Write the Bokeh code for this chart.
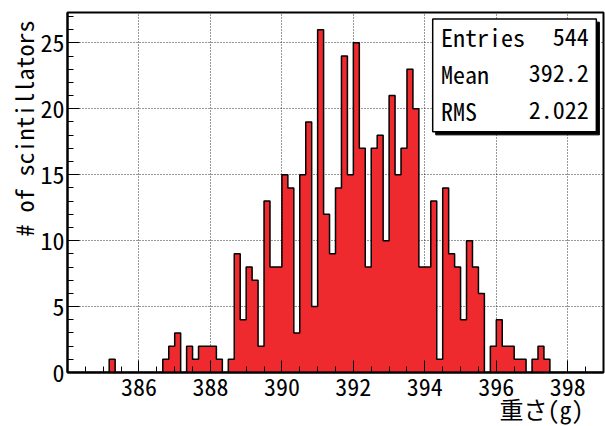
import numpy as np
from bokeh.plotting import figure
from bokeh.models import ColumnDataSource, FixedTicker, Title
from bokeh.core.properties import value
from bokeh.embed import file_html
from bokeh.resources import INLINE

# ---- data ----
bin_lo = 384.0
bin_hi = 399.0
n_bins = 90
counts = [0, 0, 0, 0, 0, 0, 0, 1, 0, 0,
          0, 0, 0, 0, 0, 0, 1, 2, 3, 0,
          2, 1, 2, 2, 2, 1, 0, 1, 9, 4,
          8, 7, 2, 13, 8, 8, 15, 14, 3, 15,
          19, 5, 26, 12, 9, 14, 24, 15, 25, 17,
          8, 17, 18, 10, 21, 15, 17, 23, 20, 8,
          8, 13, 1, 14, 9, 8, 4, 10, 8, 6,
          0, 2, 4, 2, 2, 1, 1, 0, 1, 2,
          1, 0, 0, 0, 0, 0, 0, 0, 0, 0]
x_ticks = [386, 388, 390, 392, 394, 396, 398]
y_ticks = [0, 5, 10, 15, 20, 25]
stat_names = ["Entries", "Mean", "RMS"]
stat_values = ["544", "392.2", "2.022"]
x_title = "重さ(g)"
y_title = "# of scintillators"

FONT = "'Noto Sans Mono CJK JP', 'Noto Sans CJK JP', sans-serif"
RED = "#ee2a2f"

edges = np.linspace(bin_lo, bin_hi, n_bins + 1)
ymax = max(counts) * 1.05

p = figure(width=605, height=426, x_range=(bin_lo, bin_hi), y_range=(0, ymax),
           output_backend="svg", toolbar_location=None,
           min_border_left=67, min_border_right=2, min_border_top=12, min_border_bottom=54)
p.background_fill_color = "white"
p.border_fill_color = "white"
p.outline_line_color = "black"
p.outline_line_width = 2

x_minor = [v for v in np.arange(bin_lo + 0.5, bin_hi, 0.5) if v not in x_ticks]
y_minor = [v for v in range(1, int(ymax) + 1) if v not in y_ticks]
p.xaxis.ticker = FixedTicker(ticks=x_ticks, minor_ticks=x_minor)
p.yaxis.ticker = FixedTicker(ticks=y_ticks, minor_ticks=y_minor)

for ax in (p.xaxis[0], p.yaxis[0]):
    ax.axis_line_width = 2
    ax.axis_line_color = "black"
    ax.major_tick_in = 12
    ax.major_tick_out = 0
    ax.minor_tick_in = 6
    ax.minor_tick_out = 0
    ax.major_tick_line_color = "black"
    ax.minor_tick_line_color = "black"
    ax.major_label_text_font = FONT
    ax.major_label_text_font_size = "24px"
    ax.major_label_text_color = "black"
p.xaxis.major_label_standoff = 5
p.yaxis.major_label_standoff = 3

for g in (p.xgrid[0], p.ygrid[0]):
    g.grid_line_color = "black"
    g.grid_line_dash = "1 2"
    g.grid_line_width = 1
    g.grid_line_alpha = 0.8

# histogram as one filled step polygon with black contour
sx, sy = [edges[0]], [0]
for i, c in enumerate(counts):
    sx += [edges[i], edges[i + 1]]
    sy += [c, c]
sx.append(edges[-1]); sy.append(0)
p.patch(sx, sy, fill_color=RED, line_color="black", line_width=1.5)

# stats box
bx0, bx1, by0, by1 = 394.22, 398.80, 18.25, 26.80
dx, dy = 0.085, 0.23
p.quad(left=[bx0 + dx], right=[bx1 + dx], top=[by1 - dy], bottom=[by0 - dy],
       fill_color="black", line_color="black")
p.quad(left=[bx0], right=[bx1], top=[by1], bottom=[by0],
       fill_color="white", line_color="black", line_width=1.5)
row_y = [25.47, 22.71, 19.89]
p.text(x=[394.45] * 3, y=row_y, text=stat_names, text_font=value(FONT),
       text_font_size="24px", text_align="left", text_baseline="middle", text_color="black")
p.text(x=[398.59] * 3, y=row_y, text=stat_values, text_font=value(FONT),
       text_font_size="24px", text_align="right", text_baseline="middle", text_color="black")

# axis titles
p.add_layout(Title(text=x_title, align="right", offset=20, standoff=-19,
                   text_font=FONT, text_font_size="24px", text_font_style="normal",
                   text_color="black"), "below")
p.add_layout(Title(text=y_title, align="right", offset=8, standoff=-6,
                   text_font=FONT, text_font_size="24px", text_font_style="normal",
                   text_color="black"), "left")

open("out.html", "w").write(file_html(p, INLINE))
